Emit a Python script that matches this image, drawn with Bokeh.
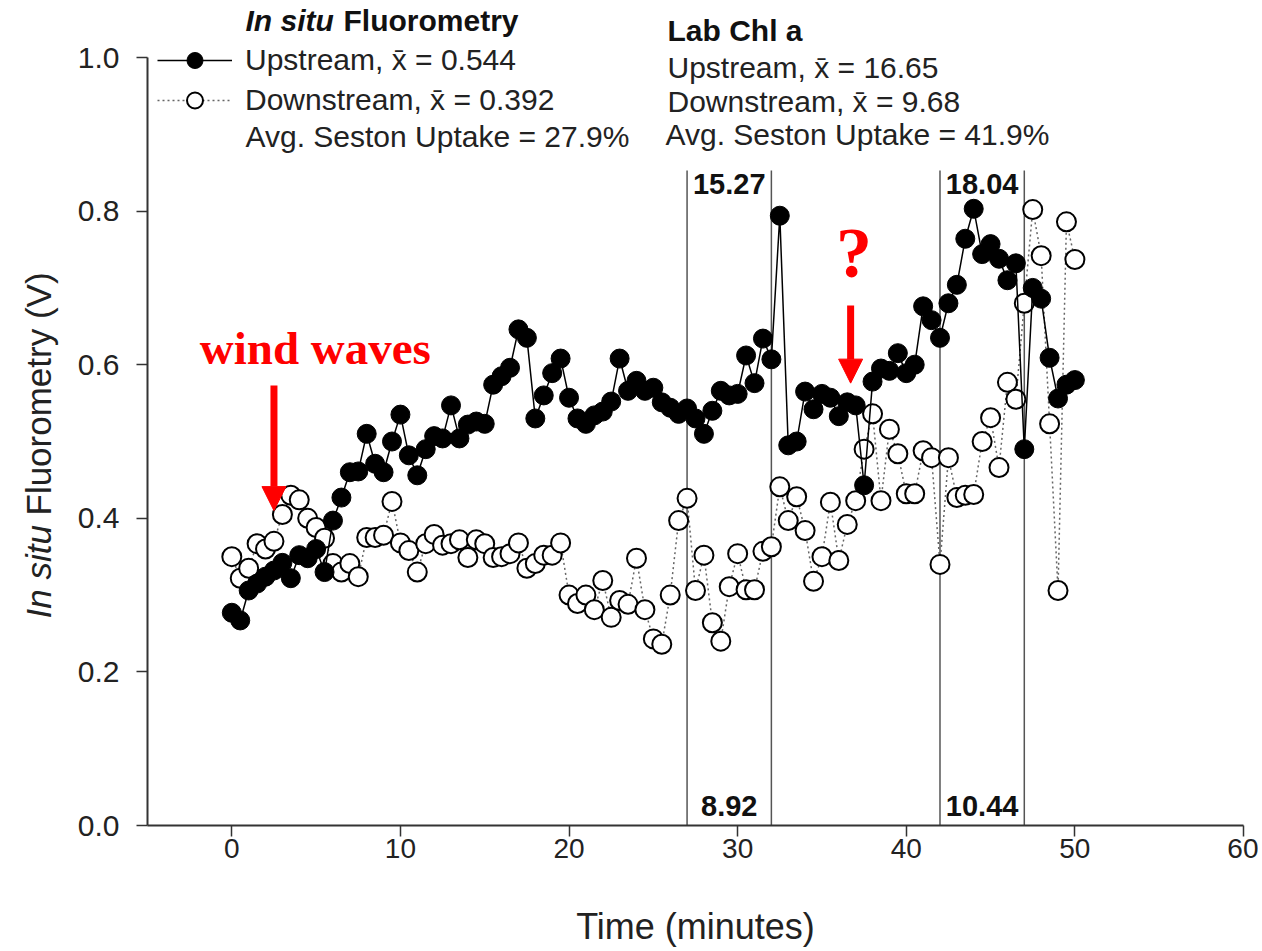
from bokeh.plotting import figure
from bokeh.models import (Label, Legend, LegendItem, FixedTicker, PrintfTickFormatter,
                          Arrow, NormalHead, ColumnDataSource, Range1d)
from bokeh.embed import file_html
from bokeh.resources import INLINE
from bokeh.core.properties import value

# ---------------- data ----------------
time_min = [0.0, 0.5, 1.0, 1.5, 2.0, 2.5, 3.0, 3.5, 4.0, 4.5,
            5.0, 5.5, 6.0, 6.5, 7.0, 7.5, 8.0, 8.5, 9.0, 9.5,
            10.0, 10.5, 11.0, 11.5, 12.0, 12.5, 13.0, 13.5, 14.0, 14.5,
            15.0, 15.5, 16.0, 16.5, 17.0, 17.5, 18.0, 18.5, 19.0, 19.5,
            20.0, 20.5, 21.0, 21.5, 22.0, 22.5, 23.0, 23.5, 24.0, 24.5,
            25.0, 25.5, 26.0, 26.5, 27.0, 27.5, 28.0, 28.5, 29.0, 29.5,
            30.0, 30.5, 31.0, 31.5, 32.0, 32.5, 33.0, 33.5, 34.0, 34.5,
            35.0, 35.5, 36.0, 36.5, 37.0, 37.5, 38.0, 38.5, 39.0, 39.5,
            40.0, 40.5, 41.0, 41.5, 42.0, 42.5, 43.0, 43.5, 44.0, 44.5,
            45.0, 45.5, 46.0, 46.5, 47.0, 47.5, 48.0, 48.5, 49.0, 49.5,
            50.0]

upstream = [0.277, 0.267, 0.306, 0.315, 0.324, 0.332, 0.342, 0.322, 0.352, 0.348,
            0.360, 0.330, 0.397, 0.427, 0.460, 0.461, 0.510, 0.471, 0.460, 0.500,
            0.535, 0.482, 0.456, 0.490, 0.507, 0.504, 0.547, 0.504, 0.522, 0.526,
            0.523, 0.574, 0.585, 0.596, 0.646, 0.635, 0.530, 0.560, 0.589, 0.608,
            0.557, 0.530, 0.523, 0.534, 0.539, 0.552, 0.608, 0.566, 0.579, 0.566,
            0.570, 0.551, 0.544, 0.536, 0.543, 0.530, 0.510, 0.540, 0.566, 0.560,
            0.562, 0.612, 0.576, 0.634, 0.607, 0.794, 0.495, 0.500, 0.565, 0.542,
            0.562, 0.557, 0.533, 0.551, 0.547, 0.443, 0.578, 0.595, 0.592, 0.615,
            0.589, 0.600, 0.676, 0.658, 0.635, 0.680, 0.704, 0.764, 0.803, 0.744,
            0.757, 0.738, 0.710, 0.732, 0.490, 0.700, 0.686, 0.609, 0.556, 0.574,
            0.580]

downstream = [0.350, 0.322, 0.335, 0.367, 0.360, 0.370, 0.405, 0.430, 0.424, 0.400,
              0.388, 0.374, 0.341, 0.330, 0.341, 0.324, 0.375, 0.375, 0.378, 0.422,
              0.368, 0.358, 0.330, 0.367, 0.379, 0.365, 0.367, 0.372, 0.349, 0.372,
              0.367, 0.349, 0.350, 0.354, 0.368, 0.335, 0.341, 0.352, 0.352, 0.368,
              0.300, 0.289, 0.300, 0.281, 0.319, 0.271, 0.293, 0.288, 0.348, 0.281,
              0.243, 0.236, 0.300, 0.397, 0.426, 0.306, 0.352, 0.264, 0.240, 0.311,
              0.354, 0.307, 0.307, 0.357, 0.363, 0.441, 0.397, 0.428, 0.384, 0.318,
              0.350, 0.421, 0.345, 0.392, 0.423, 0.490, 0.536, 0.423, 0.516, 0.484,
              0.432, 0.432, 0.488, 0.479, 0.340, 0.479, 0.427, 0.430, 0.431, 0.500,
              0.531, 0.466, 0.577, 0.555, 0.680, 0.802, 0.742, 0.523, 0.306, 0.786,
              0.737]

# lab sampling windows (minutes) and lab Chl a values
window_start = [27, 42]
window_end = [32, 47]
lab_upstream_labels = ["15.27", "18.04"]
lab_downstream_labels = ["8.92", "10.44"]

x_ticks = [0, 10, 20, 30, 40, 50, 60]
y_ticks = [0.0, 0.2, 0.4, 0.6, 0.8, 1.0]
x_axis_span = (-5, 60)
y_axis_span = (0, 1)

up_label = "Upstream, x\u0304 = 0.544"
dn_label = "Downstream, x\u0304 = 0.392"
left_note = "Avg. Seston Uptake = 27.9%"
lab_title = "Lab Chl a"
lab_up = "Upstream, x\u0304 = 16.65"
lab_dn = "Downstream, x\u0304 = 9.68"
lab_note = "Avg. Seston Uptake = 41.9%"

FONT = "Liberation Sans"

# ---------------- layout (canvas == frame) ----------------
W, H = 1258, 947
FL, FR, FT, FB = 147, 1243, 57, 825          # where the axes box sits on the canvas
pxx = (FR - FL) / (x_axis_span[1] - x_axis_span[0])
pxy = (FB - FT) / (y_axis_span[1] - y_axis_span[0])
x_range = Range1d(x_axis_span[0] - FL / pxx, x_axis_span[0] + (W - FL) / pxx)
y_range = Range1d(y_axis_span[0] - (H - FB) / pxy, y_axis_span[1] + FT / pxy)

p = figure(width=W, height=H, x_range=x_range, y_range=y_range,
           output_backend="svg", toolbar_location=None, min_border=0,
           min_border_left=0, min_border_right=0, min_border_top=0, min_border_bottom=0)
p.outline_line_color = None
p.xgrid.visible = False
p.ygrid.visible = False
p.background_fill_color = "white"

p.xaxis.fixed_location = y_axis_span[0]
p.xaxis.bounds = x_axis_span
p.yaxis.fixed_location = x_axis_span[0]
p.yaxis.bounds = y_axis_span

for ax in (p.xaxis[0], p.yaxis[0]):
    ax.axis_line_width = 2
    ax.axis_line_color = "#333333"
    ax.major_tick_line_color = "#333333"
    ax.major_tick_line_width = 1.5
    ax.major_tick_in = 0
    ax.major_tick_out = 11
    ax.minor_tick_line_color = None
    ax.major_label_text_color = "#222222"
    ax.major_label_text_font = FONT

p.xaxis.ticker = FixedTicker(ticks=x_ticks)
p.yaxis.ticker = FixedTicker(ticks=y_ticks)
p.yaxis.formatter = PrintfTickFormatter(format="%.1f")
p.xaxis.major_label_text_font_size = "28px"
p.yaxis.major_label_text_font_size = "30px"
p.yaxis.major_label_standoff = 17
p.xaxis.major_label_standoff = 2

# vertical lines for lab sample windows
vsrc = ColumnDataSource(dict(x=window_start + window_end,
                             y0=[0] * 4, y1=[0.853] * 4))
p.segment(x0="x", y0="y0", x1="x", y1="y1", source=vsrc, line_color="#555555", line_width=1.5)

mid = [(a + b) / 2 for a, b in zip(window_start, window_end)]
lsrc_top = ColumnDataSource(dict(x=mid, y=[0.835] * 2, t=lab_upstream_labels))
lsrc_bot = ColumnDataSource(dict(x=mid, y=[0.026] * 2, t=lab_downstream_labels))
for src in (lsrc_top, lsrc_bot):
    p.text(x="x", y="y", text="t", source=src, text_font=value(FONT), text_font_style="bold",
           text_font_size="29px", text_align="center", text_baseline="middle", text_color="#111111")

# series
src = ColumnDataSource(dict(t=time_min, up=upstream, dn=downstream))
dn_line = p.line("t", "dn", source=src, line_color="#666666", line_width=1.5, line_dash="2 3")
dn_pts = p.scatter("t", "dn", source=src, size=19, fill_color="white", line_color="black", line_width=2)
up_line = p.line("t", "up", source=src, line_color="black", line_width=1.5)
up_pts = p.scatter("t", "up", source=src, size=19, fill_color="black", line_color="black", line_width=1)

# legend (screen position measured from the canvas bottom-left)
legend = Legend(items=[LegendItem(label=up_label, renderers=[up_line, up_pts]),
                       LegendItem(label=dn_label, renderers=[dn_line, dn_pts])],
                location=(157, H - 120), glyph_width=75, glyph_height=40, label_height=40,
                label_standoff=13, spacing=0, padding=0, margin=0,
                border_line_color=None, background_fill_alpha=0,
                label_text_font=FONT, label_text_font_size="30px", label_text_color="#222222")
p.add_layout(legend)

def lab(text, px, py, **kw):
    opts = dict(x=px, y=H - py, x_units="screen", y_units="screen", text=text, text_font=FONT,
                text_font_size="30px", text_baseline="middle", text_color="#222222")
    opts.update(kw)
    p.add_layout(Label(**opts))

# left header
lab("In situ", 245, 20, text_font_style="bold italic", text_color="#111111")
lab("Fluorometry", 343, 20, text_font_style="bold", text_color="#111111")
lab(left_note, 245, 136)
# right header
lab(lab_title, 667, 30, text_font_style="bold", text_color="#111111")
lab(lab_up, 667, 67)
lab(lab_dn, 667, 101)
lab(lab_note, 665, 134)

# axis titles
lab("Time (minutes)", 695, 926, text_font_size="36px", text_align="center")
lab("In situ", 38, 618, angle=90, angle_units="deg", text_font_style="italic", text_font_size="35px")
lab("Fluorometry (V)", 38, 515, angle=90, angle_units="deg", text_font_size="35px")

# red annotations
p.add_layout(Label(x=-1.9, y=0.622, text="wind waves", text_font="Liberation Serif",
                   text_font_style="bold", text_font_size="47px", text_color="red",
                   text_baseline="alphabetic"))
p.add_layout(Label(x=36.9, y=0.745, text="?", text_font="Liberation Serif",
                   text_font_style="bold", text_font_size="72px", text_color="red",
                   text_baseline="alphabetic", text_align="center"))
for xs, ys, ye in [(2.5, 0.573, 0.41), (36.7, 0.677, 0.576)]:
    p.add_layout(Arrow(end=NormalHead(size=24, fill_color="red", line_color="red"),
                       x_start=xs, y_start=ys, x_end=xs, y_end=ye,
                       line_color="red", line_width=7))

open("out.html", "w").write(file_html(p, INLINE))
